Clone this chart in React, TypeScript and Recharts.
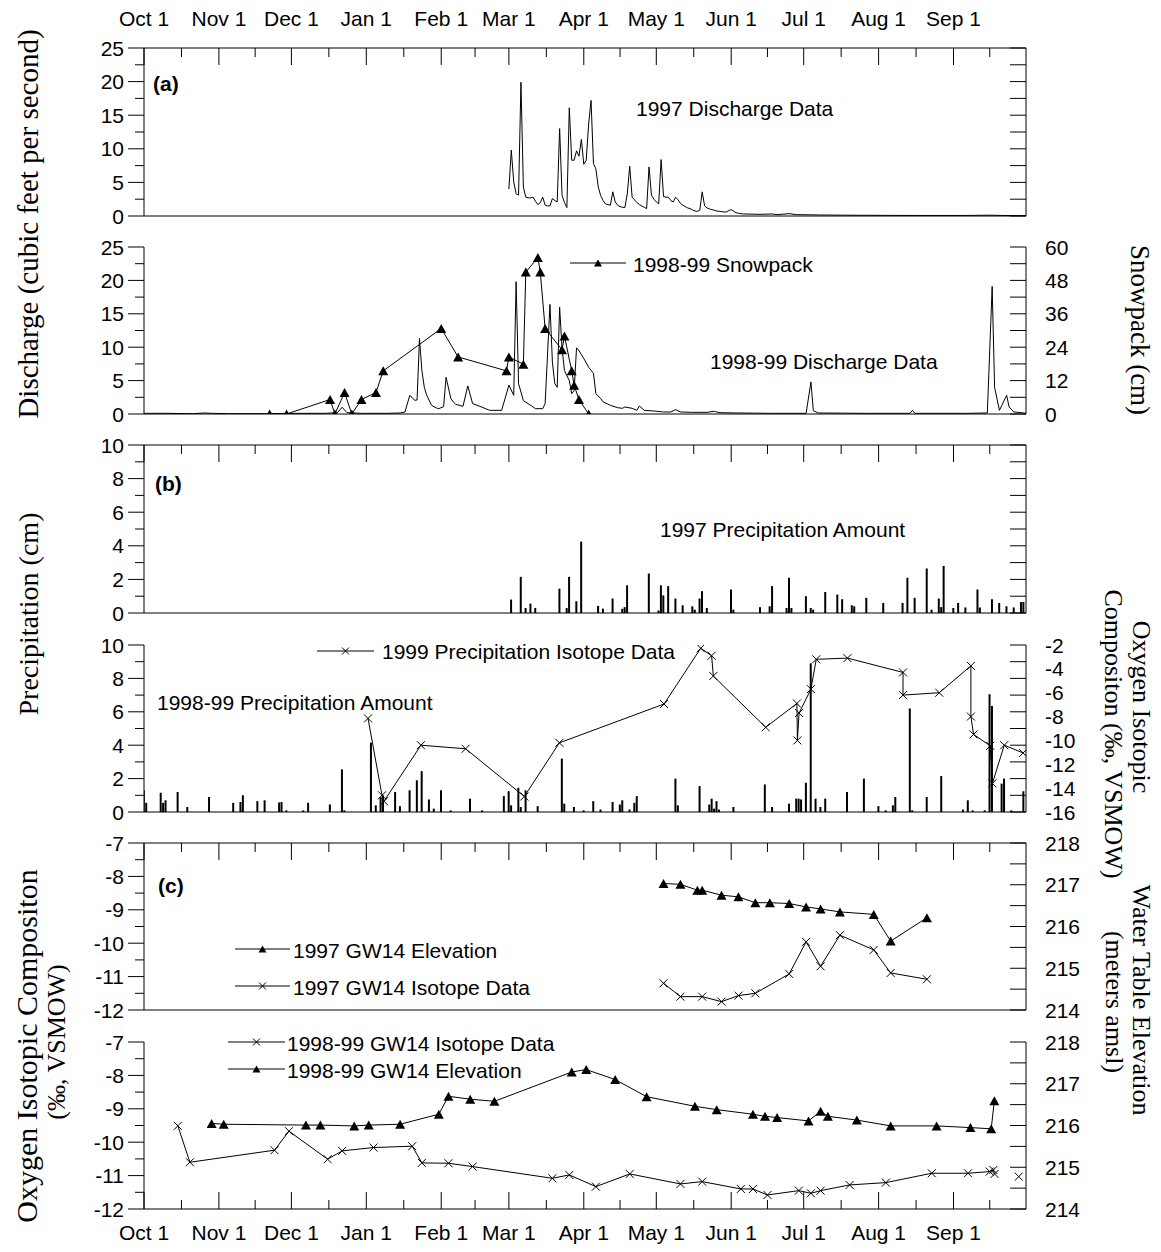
import React from 'react';
import { ComposedChart, Line, Bar, XAxis, YAxis } from 'recharts';

const W = 1161;
const H = 1252;
const PLOT_LEFT = 144;
const PLOT_RIGHT = 1026;
const SANS = 'Liberation Sans, Arial, Helvetica, sans-serif';
const SERIF = 'Liberation Serif, Times New Roman, serif';

// x axis: days since Oct 1
const MONTH_DAYS = [0, 31, 61, 92, 123, 151, 182, 212, 243, 273, 304, 335];
const MONTH_LABELS = ['Oct 1', 'Nov 1', 'Dec 1', 'Jan 1', 'Feb 1', 'Mar 1', 'Apr 1', 'May 1', 'Jun 1', 'Jul 1', 'Aug 1', 'Sep 1'];
const MID_DAYS = [15.5, 46, 76.5, 107.5, 137, 166.5, 197, 227.5, 258, 288.5, 319.5, 350];
const X_TICKS = [...MONTH_DAYS, ...MID_DAYS].sort((a, b) => a - b);

// (a) discharge, cfs
const DISCHARGE_1997: [number, number][] = [
  [151, 4.0], [152, 9.8], [153, 5.1], [154, 3.3], [155, 3.1], [156, 19.9], [157, 4.3], [158, 2.8], [159, 2.7], [160, 2.7],
  [161, 2.8], [162, 2.2], [163, 1.7], [164, 2.0], [165, 2.8], [166, 1.6], [167, 1.5], [168, 1.5], [169, 2.6], [170, 2.3],
  [171, 2.1], [172, 13.0], [173, 3.1], [174, 2.0], [175, 1.25], [176, 16.1], [177, 8.3], [178, 8.3], [179, 9.7], [180, 8.9],
  [181, 11.4], [182, 7.7], [183, 8.3], [184, 13.7], [185, 17.2], [186, 7.8], [187, 7.0], [188, 4.3], [189, 3.0], [190, 2.3],
  [191, 1.8], [192, 1.7], [193, 1.6], [194, 3.6], [195, 2.1], [196, 1.6], [197, 1.4], [198, 1.3], [199, 1.25], [200, 3.3],
  [201, 7.4], [202, 2.8], [203, 2.4], [204, 2.0], [205, 1.7], [206, 1.5], [207, 1.3], [208, 1.1], [209, 7.3], [210, 3.1],
  [211, 2.5], [212, 2.1], [213, 1.8], [214, 8.4], [215, 2.9], [216, 2.8], [217, 2.8], [218, 2.3], [219, 2.1], [220, 2.8],
  [221, 2.4], [222, 1.9], [223, 1.6], [224, 1.4], [225, 1.2], [226, 1.1], [227, 0.9], [228, 0.75], [229, 0.7], [230, 0.85],
  [231, 3.6], [232, 1.5], [233, 1.2], [234, 1.05], [235, 0.95], [236, 0.85], [237, 0.75], [238, 0.7], [239, 0.65], [240, 0.6],
  [241, 0.6], [242, 0.8], [243, 0.95], [244, 0.7], [245, 0.5], [246, 0.4], [247, 0.35], [248, 0.3], [255, 0.25], [260, 0.3],
  [262, 0.2], [267, 0.35], [270, 0.2], [280, 0.15], [290, 0.12], [300, 0.1], [320, 0.08], [340, 0.08], [350, 0.12], [355, 0.08],
  [365, 0.05],
];

const DISCHARGE_1998: [number, number][] = [
  [0, 0.1], [10, 0.1], [20, 0.05], [25, 0.15], [28, 0.1], [35, 0.05], [50, 0.05], [65, 0.1], [75, 0.1], [80, 0.2],
  [82, 1.0], [84, 0.2], [90, 0.1], [100, 0.1], [106, 0.15], [108, 0.3], [110, 2.8], [112, 2.05], [113, 2.1], [114, 11.3],
  [115, 6.5], [116, 4.0], [117, 2.8], [119, 1.3], [121, 0.9], [122, 0.8], [124, 1.1], [125, 5.5], [127, 2.3], [128, 1.8],
  [129, 1.45], [132, 1.15], [134, 4.2], [136, 1.55], [139, 1.15], [143, 0.55], [148, 0.55], [151, 4.3], [153, 2.8], [154, 19.8],
  [155, 4.55], [157, 2.0], [160, 1.3], [162, 0.8], [165, 0.8], [166, 1.55], [168, 16.4], [169, 7.8], [170, 4.55], [171, 4.0],
  [172, 16.0], [173, 9.8], [174, 6.5], [176, 5.0], [177, 3.05], [178, 3.5], [179, 9.9], [180, 9.5], [182, 8.3], [184, 7.0],
  [186, 6.1], [187, 3.05], [189, 2.3], [190, 1.8], [193, 1.3], [196, 0.95], [198, 0.85], [199, 1.05], [202, 0.85], [204, 0.55],
  [205, 1.2], [207, 0.55], [211, 0.45], [215, 0.3], [218, 0.3], [220, 0.65], [222, 0.3], [227, 0.25], [233, 0.25], [236, 0.4],
  [238, 0.2], [245, 0.15], [260, 0.1], [274, 0.1], [276, 4.8], [277, 0.5], [279, 0.15], [300, 0.1], [317, 0.1], [318, 0.55],
  [319, 0.1], [340, 0.1], [349, 0.15], [351, 19.1], [352, 4.0], [354, 0.55], [355, 1.3], [357, 2.8], [358, 1.05], [360, 0.3],
  [363, 0.2], [365, 0.1],
];

// snowpack, cm (right axis)
const SNOWPACK_1998: [number, number][] = [
  [52, 0], [59, 0], [77, 5.2], [79, 0], [83, 7.7], [86, 0], [90, 5.2], [96, 7.7], [99, 15.5], [123, 30.7],
  [130, 20.5], [150, 15.5], [151, 20.5], [157, 17.9], [158, 51.0], [163, 56.2], [164, 51.0], [166, 30.7], [173, 23.1], [174, 28.0],
  [177, 15.5], [178, 10.3], [180, 5.2], [184, 0],
];

// (b) precipitation, cm
const PRECIP_1997: [number, number][] = [
  [152, 0.8], [156, 2.15], [158, 0.3], [160, 0.56], [162, 0.3], [172, 1.45], [175, 0.3], [176, 2.15], [179, 0.7], [181, 4.25],
  [188, 0.42], [190, 0.26], [194, 0.86], [198, 0.25], [199, 0.35], [200, 1.65], [209, 2.35], [213, 0.15], [214, 1.65], [215, 1.05],
  [217, 1.6], [220, 0.86], [223, 0.46], [227, 0.4], [228, 0.2], [230, 0.86], [231, 1.3], [233, 0.3], [243, 1.4], [244, 0.2],
  [255, 0.35], [259, 0.4], [260, 1.6], [266, 0.3], [267, 2.1], [268, 0.3], [274, 1.0], [276, 0.3], [277, 0.2], [282, 1.25],
  [287, 1.1], [289, 0.82], [293, 0.46], [294, 0.4], [299, 0.9], [306, 0.6], [314, 0.6], [316, 2.1], [319, 0.9], [324, 2.65],
  [326, 0.2], [329, 0.86], [330, 0.35], [331, 2.8], [335, 0.3], [337, 0.6], [340, 0.33], [345, 1.4], [346, 0.33], [351, 0.82],
  [354, 0.6], [357, 0.4], [360, 0.33], [363, 0.65], [364, 0.65],
];

const PRECIP_1998: [number, number][] = [
  [0, 1.3], [1, 0.55], [7, 1.15], [8, 0.55], [9, 0.7], [14, 1.2], [18, 0.3], [27, 0.9], [37, 0.55], [40, 0.6],
  [41, 1.0], [47, 0.65], [50, 0.7], [56, 0.57], [57, 0.6], [59, 0.1], [66, 0.1], [68, 0.55], [77, 0.45], [82, 2.55],
  [83, 0.1], [94, 4.15], [96, 0.4], [98, 0.9], [99, 1.0], [104, 1.2], [106, 0.35], [110, 1.3], [113, 1.9], [115, 2.45],
  [118, 0.75], [120, 0.2], [123, 1.3], [127, 0.1], [135, 0.8], [140, 0.1], [149, 0.95], [151, 1.25], [152, 0.4], [155, 1.45],
  [156, 0.3], [158, 1.3], [163, 0.35], [173, 3.2], [174, 0.5], [178, 0.3], [182, 0.1], [186, 0.65], [189, 0.15], [194, 0.6],
  [197, 0.45], [198, 0.7], [201, 0.15], [203, 0.55], [204, 0.95], [220, 2.0], [221, 0.4], [230, 1.55], [234, 0.45], [235, 0.8],
  [236, 0.2], [237, 0.65], [238, 0.15], [244, 0.3], [257, 1.65], [260, 0.3], [267, 0.5], [270, 0.8], [271, 0.8], [272, 0.75],
  [274, 1.75], [276, 8.9], [278, 0.8], [280, 0.3], [282, 0.8], [291, 1.2], [298, 2.0], [304, 0.35], [307, 0.1], [310, 0.4],
  [311, 0.9], [317, 6.2], [318, 0.1], [324, 0.9], [330, 2.15], [339, 0.15], [341, 0.7], [343, 0.1], [348, 0.1], [350, 7.05],
  [351, 6.35], [355, 1.7], [356, 2.0], [359, 0.1], [364, 1.25],
];

// precipitation isotopes, permil (right axis)
const ISOTOPE_1999: [number, number][] = [
  [92.7, -8.15], [98.5, -14.6], [99.3, -15.1], [114.6, -10.4], [133.1, -10.7], [157.4, -14.7], [171.9, -10.2], [215.2, -6.95],
  [230.4, -2.27], [234.9, -2.9], [235.6, -4.6], [257.3, -8.9], [270.2, -6.9], [270.4, -10.0], [271.1, -7.7], [276, -5.7],
  [278.2, -3.2], [291.1, -3.1], [314.1, -4.3], [314.1, -6.2], [329.1, -6.0], [342.2, -3.75], [342.2, -8.0], [343.3, -9.5],
  [350.2, -10.45], [351.1, -13.6], [356, -10.4], [363.8, -11.05],
];

// (c) GW14
const GW_ELEV_1997: [number, number][] = [
  [215, 217.03], [222, 217.01], [229, 216.87], [231, 216.87], [239, 216.75], [246, 216.71], [253, 216.57], [259, 216.57],
  [267, 216.55], [274, 216.47], [280, 216.42], [288, 216.35], [302, 216.29], [309, 215.65], [324, 216.21],
];
const GW_ISO_1997: [number, number][] = [
  [215, -11.2], [222, -11.6], [231, -11.6], [239, -11.75], [246, -11.57], [253, -11.5], [267, -10.92], [274, -9.96],
  [280, -10.69], [288, -9.76], [302, -10.2], [309, -10.89], [324, -11.08],
];
const GW_ISO_1998: [number, number][] = [
  [14, -9.51], [19, -10.6], [54, -10.24], [60, -9.67], [76, -10.51], [82, -10.26], [95, -10.16], [111, -10.12], [115, -10.62],
  [126, -10.63], [136, -10.73], [169, -11.08], [176, -10.98], [187, -11.33], [201, -10.95], [222, -11.25], [231, -11.18],
  [247, -11.4], [252, -11.4], [258, -11.58], [271, -11.45], [276, -11.53], [280, -11.45], [292, -11.28], [307, -11.21],
  [326, -10.93], [341, -10.93], [350, -10.88], [351.5, -10.83], [352, -10.95],
];
const GW_ISO_1998_LONE: [number, number][] = [[362, -11.03]];
const GW_ELEV_1998: [number, number][] = [
  [28, 216.05], [33, 216.03], [67, 216.01], [73, 216.01], [87, 215.99], [93, 216.01], [106, 216.03], [122, 216.27],
  [126, 216.7], [135, 216.63], [145, 216.58], [177, 217.28], [183, 217.34], [195, 217.1], [208, 216.69], [228, 216.46],
  [237, 216.38], [252, 216.27], [257, 216.22], [262, 216.19], [275, 216.11], [280, 216.34], [283, 216.22], [295, 216.13],
  [309, 215.99], [328, 215.99], [342, 215.95], [350.6, 215.92], [351.9, 216.59],
];

// axis ticks
const Q_TICKS = [0, 2.5, 5, 7.5, 10, 12.5, 15, 17.5, 20, 22.5, 25];
const Q_MAJOR = [0, 5, 10, 15, 20, 25];
const SNOW_TICKS = [0, 6, 12, 18, 24, 30, 36, 42, 48, 54, 60];
const SNOW_LABELS = [0, 12, 24, 36, 48, 60];
const P_TICKS = [0, 1, 2, 3, 4, 5, 6, 7, 8, 9, 10];
const P_MAJOR = [0, 2, 4, 6, 8, 10];
const ISO_LABELS = [-16, -14, -12, -10, -8, -6, -4, -2];
const ISO_TICK_LINES = [-16, -14.6, -13.2, -11.8, -10.4, -9, -7.6, -6.2, -4.8, -3.4, -2];
const GW_ISO_TICKS = [-12, -11.5, -11, -10.5, -10, -9.5, -9, -8.5, -8, -7.5, -7];
const GW_ISO_MAJOR = [-12, -11, -10, -9, -8, -7];
const WT_TICKS = [214, 214.5, 215, 215.5, 216, 216.5, 217, 217.5, 218];
const WT_LABELS = [214, 215, 216, 217, 218];

const rows = (pairs: [number, number][]) => pairs.map(([day, v]) => ({ day, v }));
const near = (list: number[], v: number) => list.some((m) => Math.abs(m - v) < 1e-6);

function xTick(dir: 'down' | 'up', labelDy: number | null) {
  return (p: any) => {
    const v = p.payload.value;
    const i = MONTH_DAYS.indexOf(v);
    const len = i >= 0 ? 17 : 9;
    return (
      <g>
        <line x1={p.x} x2={p.x} y1={p.y} y2={dir === 'down' ? p.y + len : p.y - len} stroke="#000" strokeWidth={1} />
        {labelDy !== null && i >= 0 && (
          <text x={p.x} y={p.y + labelDy} textAnchor="middle" dominantBaseline="central" fontSize={21} fontFamily={SANS} fill="#000">
            {MONTH_LABELS[i]}
          </text>
        )}
      </g>
    );
  };
}

function leftTick(majors: number[]) {
  return (p: any) => {
    const v = p.payload.value;
    const major = near(majors, v);
    return (
      <g>
        <line x1={p.x - (major ? 16 : 9)} x2={p.x} y1={p.y} y2={p.y} stroke="#000" strokeWidth={1} />
        {major && (
          <text x={p.x - 20} y={p.y} textAnchor="end" dominantBaseline="central" fontSize={21} fontFamily={SANS} fill="#000">
            {v}
          </text>
        )}
      </g>
    );
  };
}

function rightTick(lines: number[], labels: number[]) {
  return (p: any) => {
    const v = p.payload.value;
    return (
      <g>
        {near(lines, v) && <line x1={p.x - 16} x2={p.x} y1={p.y} y2={p.y} stroke="#000" strokeWidth={1} />}
        {near(labels, v) && (
          <text x={p.x + 19} y={p.y} textAnchor="start" dominantBaseline="central" fontSize={21} fontFamily={SANS} fill="#000">
            {v}
          </text>
        )}
      </g>
    );
  };
}

const triangleDot = (p: any) => {
  if (p.cx == null || p.cy == null || p.value == null) return <g key={p.index} />;
  const { cx, cy } = p;
  return <path key={p.index} d={`M${cx - 5},${cy + 4.5}L${cx + 5},${cy + 4.5}L${cx},${cy - 4.5}Z`} fill="#000" />;
};

const crossDot = (p: any) => {
  if (p.cx == null || p.cy == null || p.value == null) return <g key={p.index} />;
  const { cx, cy } = p;
  return (
    <path key={p.index} d={`M${cx - 4},${cy - 4}L${cx + 4},${cy + 4}M${cx - 4},${cy + 4}L${cx + 4},${cy - 4}`} stroke="#000" strokeWidth={1} fill="none" />
  );
};

// axes are 1px thick, so the plot area edges land on PLOT_LEFT / PLOT_RIGHT
function Frame(props: { plotTop: number; plotBottom: number; chartTop: number; chartBottom: number; hasTop?: boolean; data?: any[]; children: React.ReactNode }) {
  const { plotTop, plotBottom, chartTop, chartBottom, hasTop, data, children } = props;
  return (
    <div style={{ position: 'absolute', left: 0, top: chartTop }}>
      <ComposedChart
        width={W}
        height={chartBottom - chartTop}
        data={data}
        margin={{
          top: plotTop - chartTop - (hasTop ? 1 : 0),
          bottom: chartBottom - plotBottom - 1,
          left: PLOT_LEFT - 1,
          right: W - PLOT_RIGHT - 1,
        }}
      >
        {children}
      </ComposedChart>
    </div>
  );
}

const axisLine = { stroke: '#000', strokeWidth: 1 };

function bottomAxis(tick?: any) {
  return (
    <XAxis
      xAxisId="b"
      orientation="bottom"
      type="number"
      dataKey="day"
      domain={[0, 365]}
      allowDataOverflow
      height={1}
      ticks={X_TICKS}
      interval={0}
      tickSize={0}
      tickMargin={0}
      tickLine={false}
      axisLine={axisLine}
      tick={tick ?? false}
    />
  );
}

function topAxis(labels: boolean) {
  return (
    <XAxis
      xAxisId="t"
      orientation="top"
      type="number"
      dataKey="day"
      domain={[0, 365]}
      allowDataOverflow
      height={1}
      ticks={X_TICKS}
      interval={0}
      tickSize={0}
      tickMargin={0}
      tickLine={false}
      axisLine={axisLine}
      tick={xTick('down', labels ? -30 : null)}
    />
  );
}

function hiddenXAxis() {
  return <XAxis xAxisId="h" type="number" dataKey="day" domain={[0, 365]} allowDataOverflow hide />;
}

function leftAxis(domain: [number, number], ticks: number[], majors: number[]) {
  return (
    <YAxis
      yAxisId="l"
      orientation="left"
      type="number"
      domain={domain}
      allowDataOverflow
      width={1}
      ticks={ticks}
      interval={0}
      tickSize={0}
      tickMargin={0}
      tickLine={false}
      axisLine={axisLine}
      tick={leftTick(majors)}
    />
  );
}

function rightAxis(domain: [number, number], ticks: number[], lines: number[], labels: number[]) {
  return (
    <YAxis
      yAxisId="r"
      orientation="right"
      type="number"
      domain={domain}
      allowDataOverflow
      width={1}
      ticks={ticks}
      interval={0}
      tickSize={0}
      tickMargin={0}
      tickLine={false}
      axisLine={axisLine}
      tick={rightTick(lines, labels)}
    />
  );
}

const lineProps = {
  dataKey: 'v',
  type: 'linear' as const,
  stroke: '#000',
  strokeWidth: 1,
  isAnimationActive: false,
  activeDot: false,
  legendType: 'none' as const,
};

function Label(props: { x: number; y: number; children: React.ReactNode; bold?: boolean; anchor?: 'start' | 'middle' | 'end' }) {
  return (
    <text
      x={props.x}
      y={props.y}
      textAnchor={props.anchor ?? 'start'}
      dominantBaseline="central"
      fontSize={21}
      fontWeight={props.bold ? 'bold' : 'normal'}
      fontFamily={SANS}
      fill="#000"
    >
      {props.children}
    </text>
  );
}

function Title(props: { x: number; y: number; rot: number; size?: number; children: React.ReactNode }) {
  return (
    <text
      transform={`translate(${props.x},${props.y}) rotate(${props.rot})`}
      textAnchor="middle"
      dominantBaseline="central"
      fontSize={props.size ?? 27}
      fontFamily={SERIF}
      fill="#000"
    >
      {props.children}
    </text>
  );
}

function LegendKey(props: { x1: number; x2: number; y: number; marker: 'tri' | 'cross' }) {
  const { x1, x2, y, marker } = props;
  const cx = (x1 + x2) / 2;
  return (
    <g>
      <line x1={x1} x2={x2} y1={y} y2={y} stroke="#000" strokeWidth={1} />
      {marker === 'tri' ? (
        <path d={`M${cx - 4},${y + 3.5}L${cx + 4},${y + 3.5}L${cx},${y - 3.5}Z`} fill="#000" />
      ) : (
        <path d={`M${cx - 3.5},${y - 3.5}L${cx + 3.5},${y + 3.5}M${cx - 3.5},${y + 3.5}L${cx + 3.5},${y - 3.5}`} stroke="#000" strokeWidth={1} />
      )}
    </g>
  );
}

export default function App() {
  const gwIso1998 = [...rows(GW_ISO_1998), { day: 357, v: null as any }, ...rows(GW_ISO_1998_LONE)];
  return (
    <div style={{ position: 'absolute', left: 0, top: 0, width: W, height: H, background: '#fff', overflow: 'hidden' }}>
      {/* (a) 1997 discharge */}
      <Frame plotTop={48} plotBottom={216} chartTop={0} chartBottom={230} hasTop>
        {topAxis(true)}
        {bottomAxis()}
        {leftAxis([0, 25], Q_TICKS, Q_MAJOR)}
        {rightAxis([0, 25], Q_TICKS, Q_TICKS, [])}
        <Line {...lineProps} xAxisId="b" yAxisId="l" data={rows(DISCHARGE_1997)} dot={false} />
      </Frame>

      {/* 1998-99 discharge + snowpack */}
      <Frame plotTop={247} plotBottom={414} chartTop={230} chartBottom={428}>
        {bottomAxis()}
        {leftAxis([0, 25], Q_TICKS, Q_MAJOR)}
        {rightAxis([0, 60], SNOW_TICKS, SNOW_TICKS, SNOW_LABELS)}
        <Line {...lineProps} xAxisId="b" yAxisId="l" data={rows(DISCHARGE_1998)} dot={false} />
        <Line {...lineProps} xAxisId="b" yAxisId="r" data={rows(SNOWPACK_1998)} dot={triangleDot} />
      </Frame>

      {/* (b) 1997 precipitation */}
      <Frame plotTop={445} plotBottom={613} chartTop={428} chartBottom={627} hasTop data={rows(PRECIP_1997)}>
        {topAxis(false)}
        {bottomAxis()}
        {leftAxis([0, 10], P_TICKS, P_MAJOR)}
        {rightAxis([0, 10], P_TICKS, P_TICKS, [])}
        <Bar xAxisId="b" yAxisId="l" dataKey="v" barSize={2} fill="#000" isAnimationActive={false} legendType="none" />
      </Frame>

      {/* 1998-99 precipitation + isotopes */}
      <Frame plotTop={645} plotBottom={812} chartTop={627} chartBottom={826} data={rows(PRECIP_1998)}>
        {bottomAxis()}
        {hiddenXAxis()}
        {leftAxis([0, 10], P_TICKS, P_MAJOR)}
        {rightAxis([-16, -2], [...ISO_TICK_LINES, -14, -12, -10, -8, -6, -4], ISO_TICK_LINES, ISO_LABELS)}
        <Bar xAxisId="b" yAxisId="l" dataKey="v" barSize={2} fill="#000" isAnimationActive={false} legendType="none" />
        <Line {...lineProps} xAxisId="h" yAxisId="r" data={rows(ISOTOPE_1999)} dot={crossDot} />
      </Frame>

      {/* (c) 1997 GW14 */}
      <Frame plotTop={843} plotBottom={1010} chartTop={826} chartBottom={1024} hasTop>
        {topAxis(false)}
        {bottomAxis()}
        {leftAxis([-12, -7], GW_ISO_TICKS, GW_ISO_MAJOR)}
        {rightAxis([214, 218], WT_TICKS, WT_TICKS, WT_LABELS)}
        <Line {...lineProps} xAxisId="b" yAxisId="r" data={rows(GW_ELEV_1997)} dot={triangleDot} />
        <Line {...lineProps} xAxisId="b" yAxisId="l" data={rows(GW_ISO_1997)} dot={crossDot} />
      </Frame>

      {/* 1998-99 GW14 */}
      <Frame plotTop={1042} plotBottom={1209} chartTop={1024} chartBottom={1252}>
        {bottomAxis(xTick('up', 23))}
        {leftAxis([-12, -7], GW_ISO_TICKS, GW_ISO_MAJOR)}
        {rightAxis([214, 218], WT_TICKS, WT_TICKS, WT_LABELS)}
        <Line {...lineProps} xAxisId="b" yAxisId="r" data={rows(GW_ELEV_1998)} dot={triangleDot} />
        <Line {...lineProps} xAxisId="b" yAxisId="l" data={gwIso1998} dot={crossDot} connectNulls={false} />
      </Frame>

      <svg width={W} height={H} style={{ position: 'absolute', left: 0, top: 0, pointerEvents: 'none' }}>
        <Label x={153} y={83} bold>(a)</Label>
        <Label x={155} y={483} bold>(b)</Label>
        <Label x={158} y={885} bold>(c)</Label>

        <Label x={636} y={108}>1997 Discharge Data</Label>
        <Label x={710} y={361}>1998-99 Discharge Data</Label>
        <LegendKey x1={570} x2={626} y={263} marker="tri" />
        <Label x={633} y={264}>1998-99 Snowpack</Label>

        <Label x={660} y={529}>1997 Precipitation Amount</Label>
        <Label x={157} y={702}>1998-99 Precipitation Amount</Label>
        <LegendKey x1={317} x2={374} y={651} marker="cross" />
        <Label x={382} y={651}>1999 Precipitation Isotope Data</Label>

        <LegendKey x1={235} x2={290} y={949} marker="tri" />
        <Label x={293} y={950}>1997 GW14 Elevation</Label>
        <LegendKey x1={235} x2={290} y={986} marker="cross" />
        <Label x={293} y={987}>1997 GW14 Isotope Data</Label>

        <LegendKey x1={228} x2={285} y={1042} marker="cross" />
        <Label x={287} y={1043}>1998-99 GW14 Isotope Data</Label>
        <LegendKey x1={228} x2={285} y={1069} marker="tri" />
        <Label x={287} y={1070}>1998-99 GW14 Elevation</Label>

        <Title x={28} y={224} rot={-90} size={29}>Discharge (cubic feet per second)</Title>
        <Title x={1140} y={330} rot={90}>Snowpack (cm)</Title>
        <Title x={28} y={614} rot={-90} size={28}>Precipitation (cm)</Title>
        <Title x={1141} y={707} rot={90} size={26}>Oxygen Isotopic</Title>
        <Title x={1113} y={734} rot={90} size={26}>Compositon (‰, VSMOW)</Title>
        <Title x={26} y={1046} rot={-90} size={30}>Oxygen Isotopic Compositon</Title>
        <Title x={56} y={1042} rot={-90} size={26}>(‰, VSMOW)</Title>
        <Title x={1141} y={1000} rot={90} size={26}>Water Table Elevation</Title>
        <Title x={1114} y={1002} rot={90} size={26}>(meters amsl)</Title>
      </svg>
    </div>
  );
}
